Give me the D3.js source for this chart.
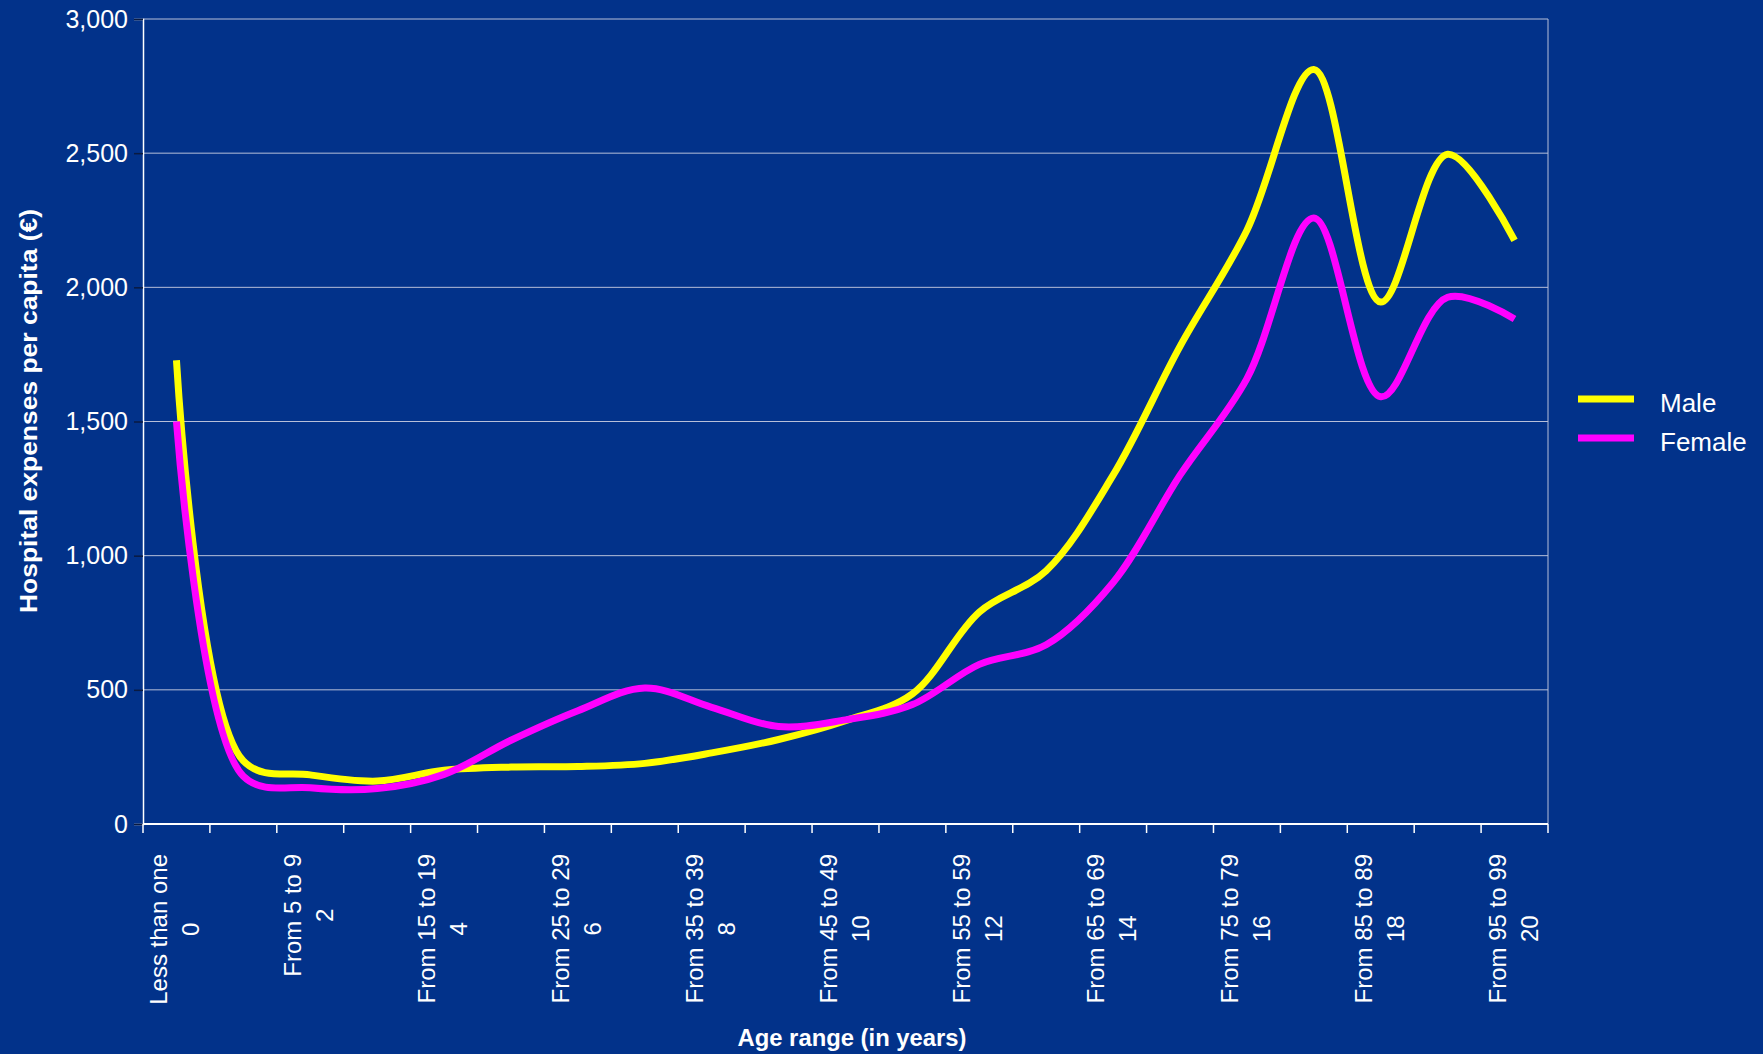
<!DOCTYPE html>
<meta charset="utf-8">
<style>
body { margin: 0; background: #02328a; }
svg { display: block; font-family: "Liberation Sans", Arial, sans-serif; }
.grid line { stroke: #b7bfd9; stroke-width: 1px; }
.y-axis text, .x-label, .legend text { fill: #fff; }
.line { fill: none; stroke-width: 7px; stroke-linejoin: round; }
</style>

<svg width="1763" height="1054"></svg>

<script src="https://d3js.org/d3.v7.min.js"></script>
<script>

// age groups (two-line Excel category labels: name + index)
var ageGroups = ["Less than one", "From 1 to 4", "From 5 to 9", "From 10 to 14", "From 15 to 19",
  "From 20 to 24", "From 25 to 29", "From 30 to 34", "From 35 to 39", "From 40 to 44",
  "From 45 to 49", "From 50 to 54", "From 55 to 59", "From 60 to 64", "From 65 to 69",
  "From 70 to 74", "From 75 to 79", "From 80 to 84", "From 85 to 89", "From 90 to 94",
  "From 95 to 99"];

var male   = [1728, 235, 183, 160, 200, 212, 214, 226, 265, 315, 385, 485, 790, 944, 1300, 1780, 2213, 2812, 1945, 2496, 2175];
var female = [1500, 178, 135, 132, 185, 312, 422, 507, 435, 363, 388, 445, 595, 668, 900, 1300, 1660, 2258, 1592, 1963, 1882];

var yTicks = [0, 500, 1000, 1500, 2000, 2500, 3000];

var svg = d3.select("svg");

var plotLeft = 143, plotRight = 1548, plotTop = 19, plotBottom = 824;

var x = d3.scaleBand()
    .domain(d3.range(ageGroups.length))
    .range([plotLeft, plotRight]);

var y = d3.scaleLinear()
    .domain([0, 3000])
    .range([plotBottom, plotTop]);

// gridlines
svg.append("g")
    .attr("class", "grid")
  .selectAll("line")
  .data(yTicks.slice(1))
  .enter().append("line")
    .attr("x1", plotLeft)
    .attr("x2", plotRight)
    .attr("y1", function(d) { return y(d); })
    .attr("y2", function(d) { return y(d); });

// right border of plot area
svg.append("line")
    .attr("x1", plotRight).attr("x2", plotRight)
    .attr("y1", plotTop).attr("y2", plotBottom)
    .attr("stroke", "#b7bfd9");

// y axis
var yAxis = svg.append("g")
    .attr("class", "y-axis")
    .attr("transform", "translate(" + plotLeft + ",0)")
    .call(d3.axisLeft(y).tickValues(yTicks).tickSize(9).tickPadding(6).tickFormat(d3.format(",")));

yAxis.select(".domain").attr("stroke", "#fff").attr("stroke-width", 1.5);
yAxis.selectAll(".tick line").attr("stroke", "#0a1a40").attr("stroke-width", 1.5);
yAxis.selectAll("text")
    .style("font-size", "25px")
    .style("font-family", "'Liberation Sans', Arial, sans-serif");

// x axis
svg.append("line")
    .attr("x1", plotLeft).attr("x2", plotRight)
    .attr("y1", plotBottom).attr("y2", plotBottom)
    .attr("stroke", "#fff")
    .attr("stroke-width", 2);

var edges = d3.range(ageGroups.length + 1).map(function(i) {
  return i < ageGroups.length ? x(i) : x(i - 1) + x.bandwidth();
});

svg.append("g")
  .selectAll("line")
  .data(edges)
  .enter().append("line")
    .attr("x1", function(d) { return d; })
    .attr("x2", function(d) { return d; })
    .attr("y1", plotBottom)
    .attr("y2", plotBottom + 9)
    .attr("stroke", "#fff")
    .attr("stroke-width", 1.5);

// category labels, every second one, rotated
var labelTop = 854;
var labels = svg.append("g")
  .selectAll("g")
  .data(d3.range(0, ageGroups.length, 2))
  .enter().append("g");

labels.each(function(i) {
  var g = d3.select(this);
  var cx = x(i) + x.bandwidth() / 2;
  var t1 = g.append("text")
      .attr("class", "x-label")
      .style("font-size", "24px")
      .attr("text-anchor", "middle")
      .text(ageGroups[i]);
  var len = t1.node().getComputedTextLength();
  var cy = labelTop + len / 2;
  t1.attr("transform", "translate(" + (cx - 9) + "," + cy + ") rotate(-90)");
  g.append("text")
      .attr("class", "x-label")
      .style("font-size", "24px")
      .attr("text-anchor", "middle")
      .attr("transform", "translate(" + (cx + 23) + "," + cy + ") rotate(-90)")
      .text(i);
});

// axis titles
svg.append("text")
    .attr("transform", "translate(37,411) rotate(-90)")
    .attr("text-anchor", "middle")
    .attr("fill", "#fff")
    .style("font-size", "24px")
    .style("font-weight", "bold")
    .attr("textLength", 404)
    .attr("lengthAdjust", "spacingAndGlyphs")
    .text("Hospital expenses per capita (€)");

svg.append("text")
    .attr("x", 852)
    .attr("y", 1046)
    .attr("text-anchor", "middle")
    .attr("fill", "#fff")
    .style("font-size", "24px")
    .style("font-weight", "bold")
    .attr("textLength", 229)
    .attr("lengthAdjust", "spacingAndGlyphs")
    .text("Age range (in years)");

// lines
var line = d3.line()
    .x(function(d, i) { return x(i) + x.bandwidth() / 2; })
    .y(function(d) { return y(d); })
    .curve(d3.curveCatmullRom.alpha(0.5));

var series = [
  {name: "Male", values: male, color: "#ffff00"},
  {name: "Female", values: female, color: "#ff00ff"}
];

svg.append("g")
  .selectAll("path")
  .data(series)
  .enter().append("path")
    .attr("class", "line")
    .attr("stroke", function(d) { return d.color; })
    .attr("d", function(d) { return line(d.values); });

// legend
var legend = svg.append("g")
    .attr("class", "legend")
  .selectAll("g")
  .data(series)
  .enter().append("g")
    .attr("transform", function(d, i) { return "translate(1578," + (399 + i * 39) + ")"; });

legend.append("line")
    .attr("x1", 0).attr("x2", 56)
    .attr("stroke", function(d) { return d.color; })
    .attr("stroke-width", 7);

legend.append("text")
    .attr("x", 82)
    .attr("y", 13)
    .style("font-size", "26px")
    .text(function(d) { return d.name; });

</script>
